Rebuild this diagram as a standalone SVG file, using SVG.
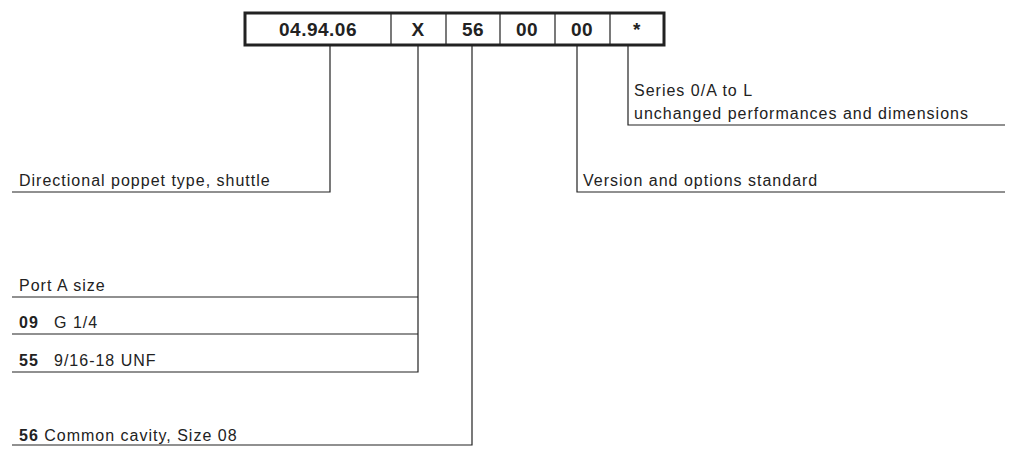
<svg xmlns="http://www.w3.org/2000/svg" width="1010" height="455" viewBox="0 0 1010 455">
<style>
text{font-family:"Liberation Sans",Arial,sans-serif;font-size:16px;fill:#222;letter-spacing:1px}
.c{font-size:19px;font-weight:bold;text-anchor:middle;letter-spacing:0.5px}
.b{font-weight:bold}
.ln{stroke:#222;stroke-width:1.2;fill:none}
.box{stroke:#222;stroke-width:3;fill:#fff}
</style>
<rect width="1010" height="455" fill="#fff"/>
<g id="code">
<rect class="box" x="245" y="13" width="419" height="32"/>
<path class="ln" stroke-width="3" d="M391 13V45M446 13V45M500 13V45M555 13V45M610 13V45"/>
<text class="c" x="318" y="36">04.94.06</text>
<text class="c" x="418" y="36">X</text>
<text class="c" x="473" y="36">56</text>
<text class="c" x="527" y="36">00</text>
<text class="c" x="582" y="36">00</text>
<text class="c" x="637" y="36">*</text>
</g>
<g id="connectors">
<path class="ln" d="M330 45V192H12"/>
<path class="ln" d="M418 45V372H12M418 297H12M418 334H12"/>
<path class="ln" d="M472 45V445H12"/>
<path class="ln" d="M577 45V192H1005"/>
<path class="ln" d="M628 45V125H1005"/>
</g>
<g id="type"><text x="19" y="186">Directional poppet type, shuttle</text></g>
<g id="port">
<text x="19" y="291">Port A size</text>
<text x="19" y="328"><tspan class="b">09</tspan><tspan x="54">G 1/4</tspan></text>
<text x="19" y="366"><tspan class="b">55</tspan><tspan x="54">9/16-18 UNF</tspan></text>
</g>
<g id="cavity"><text x="19" y="441"><tspan class="b">56</tspan> Common cavity, Size 08</text></g>
<g id="version"><text x="583" y="186">Version and options standard</text></g>
<g id="series">
<text x="634" y="96">Series 0/A to L</text>
<text x="634" y="119">unchanged performances and dimensions</text>
</g>
</svg>
